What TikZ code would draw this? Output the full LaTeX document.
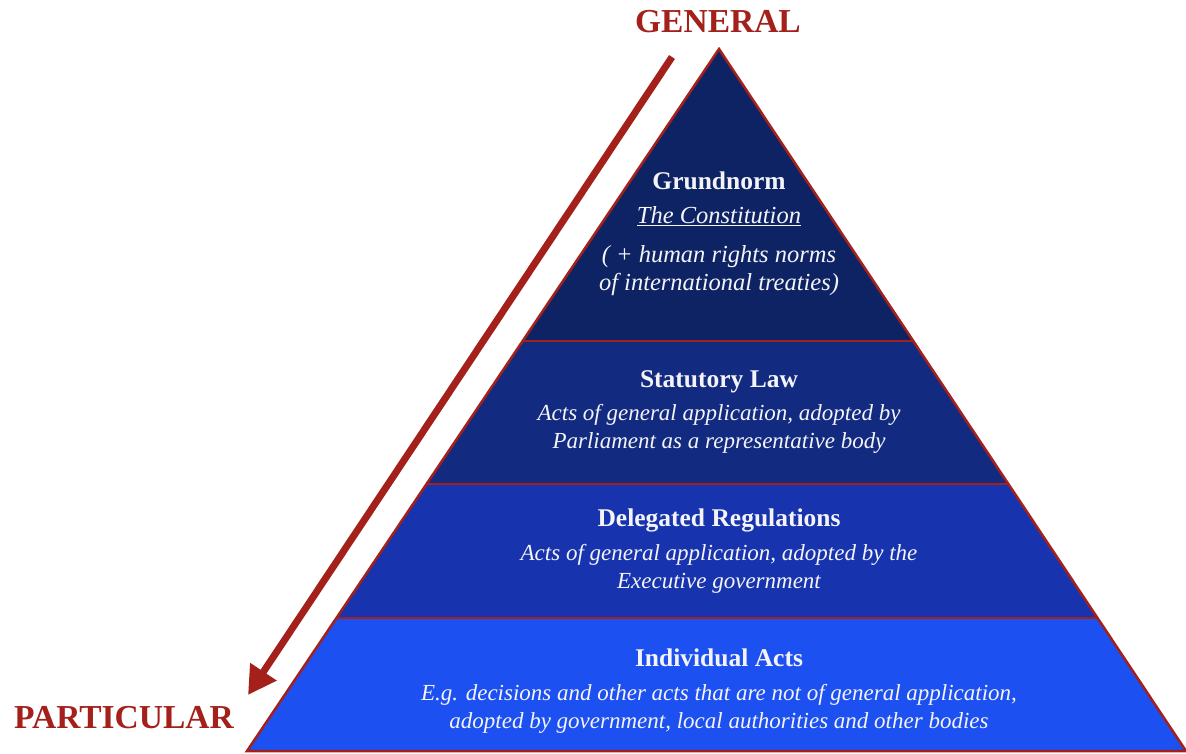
\documentclass[tikz,border=0pt]{standalone}
\usepackage{fontspec}
\setmainfont{Liberation Serif}
\usetikzlibrary{arrows.meta,calc}

\definecolor{lawred}{HTML}{A3201B}
\definecolor{tierA}{HTML}{0E2364}
\definecolor{tierB}{HTML}{122B80}
\definecolor{tierC}{HTML}{1734AE}
\definecolor{tierD}{HTML}{1C50F0}
\definecolor{pale}{HTML}{F4F4F8}

\begin{document}
\begin{tikzpicture}[x=1pt,y=-1pt,
    pole/.style={text=lawred,font=\fontsize{33.5}{36}\selectfont\bfseries},
    head/.style={text=pale,font=\fontsize{25.5}{28}\selectfont\bfseries},
    body/.style={text=pale,font=\fontsize{23}{28}\selectfont\itshape,align=center},
    topbody/.style={body,font=\fontsize{24.5}{28}\selectfont\itshape},
    rim/.style={draw=lawred,line width=2.5pt}]
  \useasboundingbox (0,0) rectangle (1186,753);

  % pyramid corners and tier cuts
  \coordinate (apex) at (719,49);
  \coordinate (bl) at (247,751);
  \coordinate (br) at (1186,751);
  \coordinate (l1) at ($(apex)!0.4160!(bl)$);
  \coordinate (r1) at ($(apex)!0.4160!(br)$);
  \coordinate (l2) at ($(apex)!0.6197!(bl)$);
  \coordinate (r2) at ($(apex)!0.6197!(br)$);
  \coordinate (l3) at ($(apex)!0.8106!(bl)$);
  \coordinate (r3) at ($(apex)!0.8106!(br)$);

  \fill[tierA] (apex) -- (r1) -- (l1) -- cycle;
  \fill[tierB] (l1) -- (r1) -- (r2) -- (l2) -- cycle;
  \fill[tierC] (l2) -- (r2) -- (r3) -- (l3) -- cycle;
  \fill[tierD] (l3) -- (r3) -- (br) -- (bl) -- cycle;
  \draw[rim] (l1) -- (r1) (l2) -- (r2) (l3) -- (r3);
  \draw[rim] (apex) -- (br) -- (bl) -- cycle;

  % arrow from general to particular
  \node[pole] (general) at (718,22) {GENERAL};
  \node[pole] (particular) at (124,718) {PARTICULAR};
  \coordinate (arrtop) at (672,57);
  \coordinate (arrtip) at (248,695);
  \draw[lawred,line width=7pt,-{Triangle[length=28pt,width=30pt]}] (arrtop) -- (arrtip);

  % tier texts
  \node[head] (grund) at (719,181) {Grundnorm};
  \node[topbody] (consti) at (719,216) {\underline{The Constitution}};
  \node[topbody] (treaty) at (719,271) {( + human rights norms\\of international treaties)};

  \node[head] (statute) at (719,382) {Statutory Law};
  \node[body] (statdesc) at (719,429) {Acts of general application, adopted by\\Parliament as a representative body};

  \node[head] (deleg) at (719,520) {Delegated Regulations};
  \node[body] (delegdesc) at (719,569) {Acts of general application, adopted by the\\Executive government};

  \node[head] (indiv) at (719,658) {Individual Acts};
  \node[body] (indivdesc) at (719,709) {E.g. decisions and other acts that are not of general application,\\adopted by government, local authorities and other bodies};
\end{tikzpicture}
\end{document}
